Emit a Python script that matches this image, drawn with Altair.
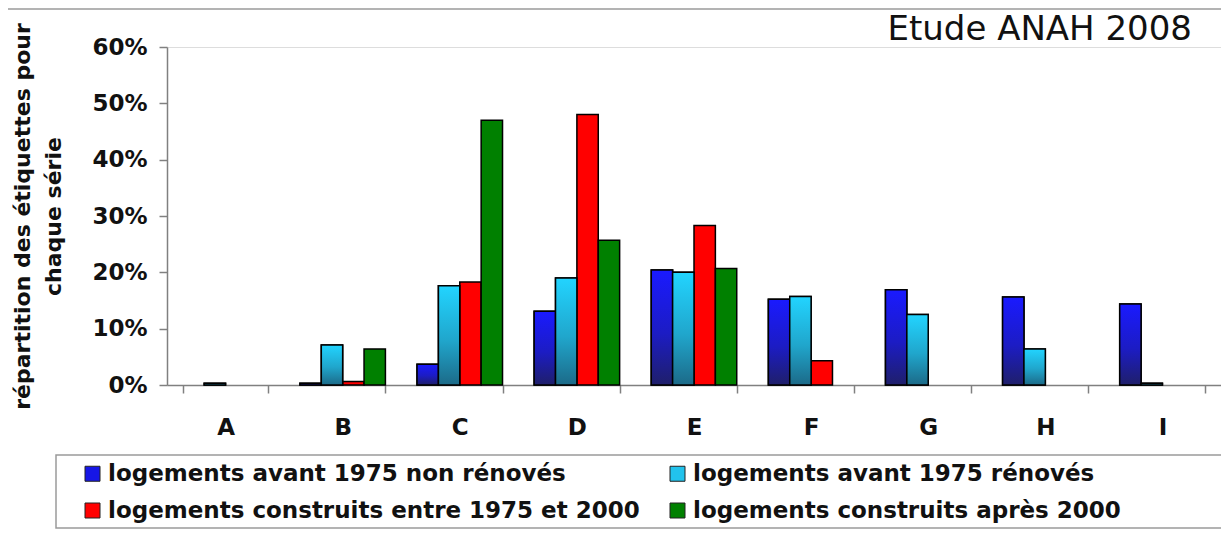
import altair as alt
import pandas as pd

# ---------------- data ----------------
categories = ["A", "B", "C", "D", "E", "F", "G", "H", "I"]
series = [
    "logements avant 1975 non rénovés",
    "logements avant 1975 rénovés",
    "logements construits entre 1975 et 2000",
    "logements construits après 2000",
]
avant_non_renoves = [0.0, 0.3, 3.7, 13.1, 20.4, 15.2, 16.9, 15.6, 14.4]
avant_renoves = [0.3, 7.1, 17.6, 19.0, 20.0, 15.7, 12.5, 6.4, 0.3]
entre_1975_2000 = [0.0, 0.6, 18.3, 48.0, 28.3, 4.3, 0.0, 0.0, 0.0]
apres_2000 = [0.0, 6.4, 47.0, 25.7, 20.7, 0.0, 0.0, 0.0, 0.0]
y_ticks = [0, 0.1, 0.2, 0.3, 0.4, 0.5, 0.6]
title_text = "Etude ANAH 2008"
y_title = ["répartition des étiquettes pour", "chaque série"]

solid_colors = ["#1616e6", "#22c2ec", "#ff0000", "#008000"]

rows = []
for s, vals in zip(series, [avant_non_renoves, avant_renoves, entre_1975_2000, apres_2000]):
    for c, v in zip(categories, vals):
        if v > 0:
            rows.append({"cat": c, "series": s, "v": v / 100.0})
df = pd.DataFrame(rows)

# legend is laid out column by column: order entries so rows read
# (non rénovés, rénovés) / (1975-2000, après 2000)
legend_order = [series[0], series[2], series[1], series[3]]
legend_colors = [solid_colors[0], solid_colors[2], solid_colors[1], solid_colors[3]]

W, H = 1054, 338
FONT = "DejaVu Sans"

blue_grad = {
    "gradient": "linear", "x1": 0, "y1": 0, "x2": 0, "y2": 1,
    "stops": [
        {"offset": 0, "color": "#1a1aff"},
        {"offset": 0.55, "color": "#1c1cc4"},
        {"offset": 1, "color": "#1f1f6a"},
    ],
}
cyan_grad = {
    "gradient": "linear", "x1": 0, "y1": 0, "x2": 0, "y2": 1,
    "stops": [
        {"offset": 0, "color": "#22d4ff"},
        {"offset": 0.55, "color": "#20a6cc"},
        {"offset": 1, "color": "#1c6a88"},
    ],
}

x_enc = alt.X(
    "cat:N",
    scale=alt.Scale(domain=categories, paddingInner=0.27, paddingOuter=0.135),
    axis=alt.Axis(
        title=None, labelAngle=0, tickBand="extent", tickSize=8,
        labelPadding=23, labelFont=FONT, labelFontWeight="bold",
        labelFontSize=23, labelColor="#111", domainColor="#808080",
        tickColor="#808080", domainWidth=1.5, tickWidth=1.5,
    ),
)
xoff_enc = alt.XOffset("series:N", scale=alt.Scale(domain=series))
y_enc = alt.Y(
    "v:Q",
    scale=alt.Scale(domain=[0, 0.6], nice=False),
    axis=alt.Axis(
        values=y_ticks, format=".0%", grid=False, tickSize=8, labelPadding=12,
        labelFont=FONT, labelFontWeight="bold", labelFontSize=23, labelColor="#111",
        domainColor="#808080", tickColor="#808080", domainWidth=1.5, tickWidth=1.5,
        title=y_title, titleFont=FONT, titleFontWeight="bold", titleFontSize=22,
        titleColor="#111", titleAngle=270, titleX=-145, titleY=H / 2,
        titleAlign="center", titleBaseline="middle", titleLineHeight=31,
    ),
)

base = alt.Chart(df).mark_bar(stroke="black", strokeWidth=1.5).encode(
    x=x_enc,
    xOffset=xoff_enc,
    y=y_enc,
    color=alt.Color(
        "series:N",
        scale=alt.Scale(domain=legend_order, range=legend_colors),
        legend=alt.Legend(
            title=None, orient="none", legendX=-86, legendY=415, columns=2,
            symbolType="square", symbolSize=225, symbolStrokeColor="#222",
            symbolStrokeWidth=1, labelFont=FONT, labelFontWeight="bold",
            labelFontSize=23, labelColor="#111", labelLimit=1000,
            labelOffset=4, columnPadding=26, rowPadding=13, padding=0,
        ),
    ),
)

blue_layer = alt.Chart(df).transform_filter(
    alt.datum.series == series[0]
).mark_bar(fill=blue_grad, stroke="black", strokeWidth=1.5).encode(
    x=x_enc, xOffset=xoff_enc, y=y_enc
)
cyan_layer = alt.Chart(df).transform_filter(
    alt.datum.series == series[1]
).mark_bar(fill=cyan_grad, stroke="black", strokeWidth=1.5).encode(
    x=x_enc, xOffset=xoff_enc, y=y_enc
)

title_layer = alt.Chart(alt.Data(values=[{"t": title_text}])).mark_text(
    align="right", baseline="alphabetic", font=FONT, fontSize=34, color="#111"
).encode(text="t:N", x=alt.value(1025), y=alt.value(-7))

legend_box = alt.Chart(alt.Data(values=[{"k": 1}])).mark_rect(
    fillOpacity=0, stroke="#9a9a9a", strokeWidth=1.5
).encode(x=alt.value(-111), x2=alt.value(1070), y=alt.value(408), y2=alt.value(481))

top_line = alt.Chart(alt.Data(values=[{"k": 1}])).mark_rule(
    color="#9a9a9a", strokeWidth=1.5
).encode(x=alt.value(-159), x2=alt.value(1054), y=alt.value(-38))

chart = alt.layer(
    legend_box, top_line, base, blue_layer, cyan_layer, title_layer
).properties(
    width=W, height=H,
    padding={"left": 159, "top": 39, "right": 0, "bottom": 144},
    autosize=alt.AutoSizeParams(type="none"),
).configure_view(
    fill="#e9e9e9", stroke="#8c8c8c", strokeWidth=1.5
).configure(background="white")

chart.save("out.html", embed_options={"renderer": "svg", "actions": False})
